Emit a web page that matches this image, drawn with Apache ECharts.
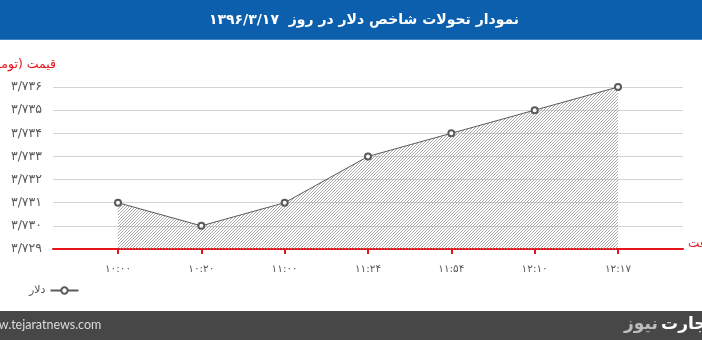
<!DOCTYPE html>
<html><head><meta charset="utf-8">
<script src="https://cdn.jsdelivr.net/npm/echarts@6/dist/echarts.min.js"></script>
<style>html,body{margin:0;padding:0;background:#fff}#c{width:702px;height:340px}</style>
</head><body><div id="c"></div>
<script>
var title = 'نمودار تحولات شاخص دلار در روز  ۱۳۹۶/۳/۱۷';
var seriesName = 'دلار';
var yName = 'قیمت (تومان)';
var xName = 'ساعت';
var categories = ['۱۰:۰۰','۱۰:۲۰','۱۱:۰۰','۱۱:۲۴','۱۱:۵۴','۱۲:۱۰','۱۲:۱۷'];
var values = [3731, 3730, 3731, 3733, 3734, 3735, 3736];
var yMin = 3729, yMax = 3736;

function fa(n){ return String(n).replace(/[0-9]/g, function(d){ return '۰۱۲۳۴۵۶۷۸۹'[+d]; }); }
function faThousands(v){ var s = String(v); return fa(s.slice(0, s.length-3)) + '/' + fa(s.slice(-3)); }

var pc = document.createElement('canvas'); pc.width = 3; pc.height = 3;
var g = pc.getContext('2d');
g.strokeStyle = '#969696'; g.lineWidth = 0.8;
g.beginPath(); g.moveTo(0,3); g.lineTo(3,0); g.moveTo(-1,1); g.lineTo(1,-1); g.moveTo(2,4); g.lineTo(4,2); g.stroke();

var data = values.map(function(v,i){ return [i, v]; });
var idx = categories.map(function(c,i){ return i; });

var chart = echarts.init(document.getElementById('c'));
chart.setOption({
  animation: false,
  backgroundColor: '#ffffff',
  grid: { left: 53, right: 19, top: 87, bottom: 91 },
  xAxis: {
    type: 'value', min: -0.78, max: 6.78,
    splitLine: { show: false },
    axisLine: { show: true, onZero: false, lineStyle: { color: '#e8141b', width: 2 } },
    axisTick: { show: true, customValues: idx, length: 5, lineStyle: { color: '#e8141b', width: 2 } },
    axisLabel: { customValues: idx, margin: 15, color: '#595959', fontSize: 10.5, fontFamily: 'DejaVu Sans',
      formatter: function(v){ return categories[Math.round(v)]; } }
  },
  yAxis: {
    type: 'value', min: yMin, max: yMax, interval: 1,
    axisLine: { show: false }, axisTick: { show: false },
    splitLine: { lineStyle: { color: '#d4d4d4', width: 1 } },
    axisLabel: { margin: 11, color: '#595959', fontSize: 12.5, fontFamily: 'DejaVu Sans',
      formatter: function(v){ return faThousands(v); } }
  },
  legend: {
    left: 24, top: 280, align: 'right', itemWidth: 28, itemHeight: 8, itemGap: 5,
    textStyle: { color: '#595959', fontSize: 11, fontFamily: 'DejaVu Sans' },
    data: [seriesName]
  },
  series: [{
    name: seriesName, type: 'line', data: data,
    symbol: 'emptyCircle', symbolSize: 6,
    lineStyle: { color: '#5a5a5a', width: 1 },
    itemStyle: { color: '#5a5a5a', borderColor: '#5a5a5a', borderWidth: 2 },
    areaStyle: { origin: 'start', color: { image: pc, repeat: 'repeat' }, opacity: 1 },
    z: 3
  }],
  graphic: [
    { type: 'rect', left: 0, top: 0, shape: { width: 702, height: 39 }, style: { fill: '#0b5fac' }, z: 10 },
    { type: 'rect', left: 0, top: 39, shape: { width: 702, height: 1 }, style: { fill: '#3f86c4' }, z: 10 },
    { type: 'text', x: 364, y: 20, z: 11, style: { text: title, fill: '#ffffff', font: 'bold 14px "DejaVu Sans"', textAlign: 'center', textVerticalAlign: 'middle' } },
    { type: 'text', x: 56, y: 65, z: 11, style: { text: yName, fill: '#e8141b', font: '12.5px "DejaVu Sans"', textAlign: 'right', textVerticalAlign: 'middle' } },
    { type: 'text', x: 688, y: 244, z: 11, style: { text: xName, fill: '#e8141b', font: '12px "DejaVu Sans"', textVerticalAlign: 'middle' } },
    { type: 'rect', left: 0, top: 311, shape: { width: 702, height: 29 }, style: { fill: '#474747' }, z: 10 },
    { type: 'text', x: -21, y: 325, z: 11, style: { text: 'www.tejaratnews.com', fill: '#dcdcdc', font: '12.5px Lato', textVerticalAlign: 'middle' } },
    { type: 'text', x: 713, y: 325, z: 11, style: { text: '{b|نیوز} {a|تجارت}', textAlign: 'right', textVerticalAlign: 'middle',
        rich: { a: { fill: '#ffffff', fontSize: 17, fontWeight: 'bold', fontFamily: 'DejaVu Sans' }, b: { fill: '#bdbdbd', fontSize: 17, fontWeight: 'bold', fontFamily: 'DejaVu Sans' } } } }
  ]
});
</script></body></html>
